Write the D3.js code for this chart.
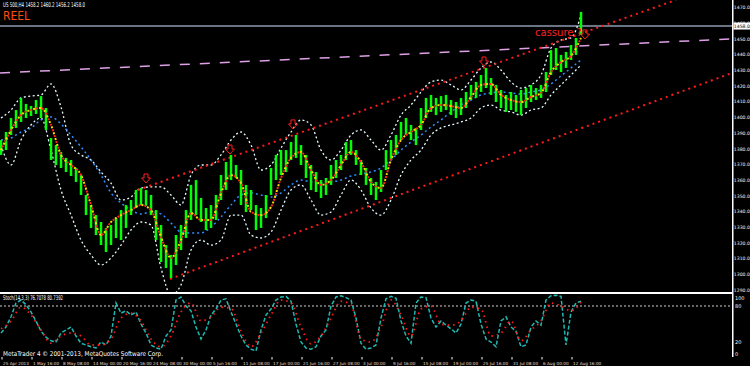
<!DOCTYPE html>
<html><head><meta charset="utf-8">
<script src="https://cdn.jsdelivr.net/npm/d3@7"></script>
<style>html,body{margin:0;padding:0;background:#000;overflow:hidden}svg{display:block}</style>
</head><body>
<script>
// ---- data (H4 bars, one entry every 5 px of the original) ----
const barLow = [1375.9,1379.0,1388.6,1393.1,1396.9,1399.4,1400.7,1402.0,1399.4,1391.8,
1372.7,1369.5,1367.6,1365.0,1362.5,1358.7,1350.4,1337.6,1329.4,1324.9,
1318.5,1314.1,1318.5,1323.0,1321.7,1329.4,1337.6,1342.1,1344.0,1343.4,
1337.6,1321.7,1307.7,1303.9,1297.5,1305.8,1315.3,1323.0,1334.5,1337.6,
1333.2,1328.1,1329.4,1334.5,1347.2,1353.6,1359.9,1361.2,1344.0,1339.6,
1340.8,1328.1,1329.4,1335.7,1350.4,1359.9,1363.1,1365.0,1372.7,1374.0,
1369.5,1361.2,1353.6,1352.3,1348.5,1350.4,1356.8,1361.2,1366.3,1372.7,
1375.9,1369.5,1363.1,1356.8,1350.4,1347.2,1352.3,1366.3,1372.7,1375.9,
1385.4,1388.6,1385.4,1382.2,1391.8,1399.4,1403.3,1401.3,1403.3,1404.5,
1401.3,1399.4,1401.3,1405.8,1410.9,1412.2,1416.0,1418.5,1414.1,1409.6,
1405.8,1403.3,1404.5,1403.3,1401.3,1405.8,1409.6,1410.9,1412.2,1416.0,
1426.8,1430.0,1428.7,1431.3,1436.4,1439.6,1452.3];
const barHigh = [1385.4,1390.5,1399.4,1404.5,1412.2,1408.4,1407.1,1410.9,1413.4,1405.8,
1386.7,1382.2,1377.8,1374.0,1372.7,1367.6,1363.1,1350.4,1344.0,1337.6,
1333.2,1329.4,1331.3,1335.7,1340.8,1344.0,1347.2,1353.6,1354.8,1353.6,
1350.4,1340.8,1331.3,1318.5,1312.2,1324.9,1331.3,1340.8,1356.8,1359.9,
1348.5,1342.1,1344.0,1350.4,1363.1,1371.4,1375.9,1369.5,1366.3,1356.8,
1353.6,1344.0,1342.1,1350.4,1367.6,1375.9,1379.0,1379.0,1384.1,1388.6,
1382.2,1375.9,1369.5,1365.0,1359.9,1361.2,1369.5,1372.7,1375.9,1384.1,
1385.4,1379.0,1372.7,1367.6,1361.2,1358.7,1366.3,1379.0,1385.4,1388.6,
1396.9,1399.4,1395.0,1393.1,1405.8,1412.2,1414.1,1412.2,1413.4,1414.1,
1410.9,1409.6,1412.2,1416.0,1420.5,1422.4,1426.8,1431.3,1424.9,1420.5,
1417.3,1414.1,1416.0,1414.1,1417.3,1418.5,1420.5,1418.5,1420.5,1428.7,
1442.7,1444.0,1439.6,1441.5,1445.9,1450.4,1467.0];
// indicators, one entry every 10 px (every 2 bars)
const fastMA = [1379.0,1391.8,1401.3,1404.5,1405.8,1395.0,1375.9,1369.5,1363.1,1344.0,
1324.9,1333.2,1337.6,1340.8,1344.0,1340.8,1323.6,1310.3,1321.7,1338.9,
1334.5,1334.5,1351.7,1363.1,1358.0,1339.6,1337.6,1342.7,1361.2,1374.0,
1377.8,1366.3,1356.8,1359.9,1369.5,1377.8,1371.4,1358.7,1354.8,1372.7,
1385.4,1390.5,1395.0,1405.8,1407.7,1407.1,1405.8,1412.8,1420.5,1421.1,
1414.1,1410.9,1409.6,1412.8,1415.4,1428.7,1435.1,1438.9,1450.4];
const slowMA = [1385.4,1386.7,1390.5,1393.1,1398.2,1400.1,1395.6,1388.6,1381.0,1372.7,
1363.1,1351.7,1345.3,1340.8,1338.3,1339.6,1338.3,1332.5,1326.8,1326.2,
1326.2,1330.0,1336.4,1344.0,1350.4,1351.7,1350.4,1349.1,1351.7,1356.8,
1359.9,1358.7,1358.0,1358.7,1359.9,1362.5,1363.8,1365.0,1367.6,1372.7,
1379.0,1384.1,1388.6,1393.7,1398.2,1403.3,1407.7,1410.9,1414.1,1415.4,
1416.0,1415.4,1414.7,1416.0,1417.3,1421.1,1426.2,1431.3,1436.4];
const bandUpper = [1399.4,1404.5,1412.2,1413.4,1414.1,1421.1,1406.4,1382.2,1375.9,1372.7,
1365.0,1358.0,1347.2,1349.1,1354.8,1355.5,1355.5,1350.4,1344.0,1363.1,
1369.5,1369.5,1375.9,1385.4,1390.5,1382.2,1366.3,1369.5,1380.3,1390.5,
1398.2,1395.0,1379.0,1372.7,1379.0,1388.6,1391.8,1385.4,1379.0,1388.6,
1401.3,1407.7,1416.0,1422.4,1423.6,1420.5,1417.3,1423.6,1431.3,1435.1,
1430.0,1422.4,1418.5,1420.5,1426.8,1444.0,1449.1,1450.4,1465.0];
const bandLower = [1382.2,1369.5,1385.4,1395.0,1399.4,1379.0,1353.6,1337.6,1321.7,1312.2,
1305.8,1310.3,1318.5,1328.1,1333.2,1331.3,1303.9,1286.7,1293.1,1315.4,
1321.7,1318.5,1321.7,1337.6,1337.6,1324.9,1323.0,1326.8,1340.8,1353.6,
1356.8,1347.2,1337.6,1339.6,1350.4,1359.9,1353.6,1342.1,1337.6,1347.2,
1363.1,1372.7,1379.0,1388.6,1393.1,1395.0,1396.9,1399.4,1405.8,1407.7,
1404.5,1403.3,1401.3,1404.5,1405.8,1414.1,1420.5,1426.8,1433.2];
// stochastic main (every 5 px) and signal (every 10 px)
const stochMain = [35,45,62,85,90,82,70,55,38,28,22,20,35,40,45,30,18,15,12,10,
20,15,30,85,68,72,65,70,50,35,15,10,8,30,40,90,95,80,72,45,
25,40,65,75,90,92,70,50,30,15,8,5,40,65,75,90,95,96,88,50,
20,10,8,12,30,40,80,95,97,94,90,60,18,8,10,15,60,92,96,93,
55,30,18,85,95,94,60,45,55,48,42,35,50,85,90,88,50,25,20,12,
55,62,45,38,12,15,45,55,48,90,97,98,96,15,70,85,88];
const stochSignal = [42,55,78,65,40,18,30,35,30,15,15,25,60,68,55,25,12,30,70,85,
55,62,78,76,38,12,35,65,90,85,45,17,30,60,88,82,25,20,45,90,
65,30,75,80,50,48,55,78,75,30,35,55,22,40,55,85,80,72,86];
// straight objects: [bar index, price]
const channelUpper = [[27.4,1353.6],[135,1474.6]];
const channelLower = [[33.8,1296.9],[146.2,1428.1]];
const resistance   = [[-0.2,1428.1],[146.2,1449.8]];
const fractals = [[29,1358.7],[45.8,1377.1],[58.4,1393.1],[96.6,1433.2],[116.8,1450.4]];
const priceTicks = [1470,1460,1450,1440,1430,1420,1410,1400,1390,1380,1370,1360,1350,1340,1330,1320,1310,1300,1290];
const stochTicks = [100,80,20,0];
const stochLevels = [80];
const timeLabels = ["25 Apr 2013","1 May 16:00","8 May 08:00","14 May 00:00","20 May 16:00","24 May 08:00",
"30 May 00:00","5 Jun 16:00","11 Jun 08:00","17 Jun 00:00","21 Jun 16:00","27 Jun 08:00","3 Jul 00:00",
"9 Jul 16:00","15 Jul 08:00","19 Jul 00:00","25 Jul 16:00","31 Jul 08:00","6 Aug 00:00","12 Aug 16:00"];
const lastPrice = 1458.0;
const headerText = "US 500,H4 1458.2 1460.2 1456.2 1458.0";
const stochText = "Stoch(14,3,3) 76.7078 80.7392";
const footerText = "MetaTrader 4 \u00a9 2001-2013, MetaQuotes Software Corp.";

// ---- drawing ----
const W = 750, H = 366, plotR = 732, mainB = 292, subT = 294, subB = 357;
const FONT = "DejaVu Sans, sans-serif";
const svg = d3.select("body").append("svg").attr("width", W).attr("height", H)
  .style("background", "#000");
const defs = svg.append("defs");
defs.append("clipPath").attr("id","cm").append("rect").attr("x",0).attr("y",0).attr("width",plotR).attr("height",mainB);
defs.append("clipPath").attr("id","cs").append("rect").attr("x",0).attr("y",subT).attr("width",plotR).attr("height",subB-subT);

const x = d3.scaleLinear().domain([0, 116]).range([1, 581]);
const y = d3.scaleLinear().domain([1290, 1470]).range([289.8, 7.2]);
const ys = d3.scaleLinear().domain([0, 100]).range([354, 294]);

const gm = svg.append("g").attr("clip-path", "url(#cm)");
const gs = svg.append("g").attr("clip-path", "url(#cs)");

// last price line
gm.append("line").attr("x1",0).attr("x2",plotR).attr("y1",y(lastPrice)).attr("y2",y(lastPrice))
  .attr("stroke","#8c9cb0").attr("stroke-width",1.5);

// resistance dashed line
const seg = d3.line().x(d => x(d[0])).y(d => y(d[1]));
gm.append("path").attr("d", seg(resistance)).attr("stroke","#e0a0e6").attr("stroke-width",1.5)
  .attr("stroke-dasharray","10,10").attr("fill","none");

// bands
const ln = (arr, step) => d3.line().curve(d3.curveMonotoneX).x((d,i) => x(i*step)).y(d => y(d))(arr);
[bandUpper, bandLower].forEach(b => {
  gm.append("path").attr("d", ln(b,2)).attr("stroke","#e6fbff").attr("stroke-width",1.3)
    .attr("stroke-dasharray","2,2.5").attr("fill","none");
});
// slow MA
gm.append("path").attr("d", ln(slowMA,2)).attr("stroke","#2f8fff").attr("stroke-width",1.5)
  .attr("stroke-dasharray","2,3").attr("fill","none");

// channel lines
[channelUpper, channelLower].forEach(c => {
  gm.append("path").attr("d", seg(c)).attr("stroke","#ff1a1a").attr("stroke-width",2)
    .attr("stroke-dasharray","2,4").attr("fill","none");
});

// bars
gm.selectAll("rect.bar").data(barLow).join("rect").attr("class","bar")
  .attr("x", (d,i) => x(i) - 1.25).attr("width", 2.5)
  .attr("y", (d,i) => y(barHigh[i])).attr("height", (d,i) => y(d) - y(barHigh[i]))
  .attr("fill", "#00ff00");

// fast MA (alternating red / yellow dots)
gm.append("path").attr("d", ln(fastMA,2)).attr("stroke","#ffd700").attr("stroke-width",2)
  .attr("stroke-dasharray","2,4").attr("fill","none");
gm.append("path").attr("d", ln(fastMA,2)).attr("stroke","#ff2020").attr("stroke-width",2)
  .attr("stroke-dasharray","2,4").attr("stroke-dashoffset",3).attr("fill","none");

// fractal arrows
gm.selectAll("path.fr").data(fractals).join("path").attr("class","fr")
  .attr("transform", d => `translate(${x(d[0])},${y(d[1])})`)
  .attr("d","M-2,-8 h4 v4 h2.5 l-4.5,5 l-4.5,-5 h2.5 z")
  .attr("fill","none").attr("stroke","#ff2020").attr("stroke-width",1);

// label cassure
svg.append("text").attr("x", 535).attr("y", 36).text("cassure ?")
  .attr("fill","#ff2020").attr("font-family",FONT).attr("font-size",10);

// header texts
svg.append("text").attr("x",3).attr("y",7).text(headerText).attr("fill","#fff")
  .attr("font-family",FONT).attr("font-size",6.5).attr("textLength",82).attr("lengthAdjust","spacingAndGlyphs");
svg.append("text").attr("x",3).attr("y",20).text("REEL").attr("fill","#ff4a10")
  .attr("font-family",FONT).attr("font-size",13).attr("textLength",27).attr("lengthAdjust","spacingAndGlyphs");

// panel separators and axis
svg.append("rect").attr("x",0).attr("y",mainB).attr("width",plotR+1).attr("height",2).attr("fill","#fff");
svg.append("rect").attr("x",plotR).attr("y",0).attr("width",1.5).attr("height",subB).attr("fill","#fff");

// price axis labels (the one under the current-price box is hidden by it, as in the original)
const ga = svg.append("g");
ga.selectAll("text.pt").data(priceTicks).join("text").attr("class","pt")
  .attr("x", 733.8).attr("y", d => y(d) + 2).text(d => d.toFixed(1))
  .attr("fill","#f4f4f4").attr("font-family",FONT).attr("font-size",4.6);
ga.append("rect").attr("x",733.5).attr("y",y(lastPrice)-3.5).attr("width",16.5).attr("height",7).attr("fill","#fff");
ga.append("text").attr("x",733.8).attr("y",y(lastPrice)+2).text(lastPrice.toFixed(1))
  .attr("fill","#000").attr("font-family",FONT).attr("font-size",4.6);

// stochastic subwindow
gs.selectAll("line.lv").data(stochLevels).join("line").attr("class","lv")
  .attr("x1",0).attr("x2",plotR).attr("y1",d=>ys(d)).attr("y2",d=>ys(d))
  .attr("stroke","#d0d0d0").attr("stroke-width",1).attr("stroke-dasharray","2,2");
gs.append("path").attr("d", d3.line().x((d,i)=>x(i)).y(d=>ys(d))(stochMain))
  .attr("stroke","#20b8b0").attr("stroke-width",1.5).attr("stroke-dasharray","4,2").attr("fill","none");
gs.append("path").attr("d", d3.line().curve(d3.curveMonotoneX).x((d,i)=>x(i*2)).y(d=>ys(d))(stochSignal))
  .attr("stroke","#ff1a1a").attr("stroke-width",1.8).attr("stroke-dasharray","1.5,4").attr("fill","none");
svg.append("text").attr("x",3).attr("y",300).text(stochText).attr("fill","#fff")
  .attr("font-family",FONT).attr("font-size",6.5).attr("textLength",60).attr("lengthAdjust","spacingAndGlyphs");
ga.selectAll("text.st").data(stochTicks).join("text").attr("class","st")
  .attr("x",735).attr("y",d=> d===100 ? 299.5 : ys(d)+2).text(d=>d)
  .attr("fill","#f4f4f4").attr("font-family",FONT).attr("font-size",5);

// footer
svg.append("text").attr("x",3).attr("y",356).text(footerText).attr("fill","#fff")
  .attr("font-family",FONT).attr("font-size",6.5).attr("textLength",160).attr("lengthAdjust","spacingAndGlyphs");
const gt = svg.append("g");
timeLabels.forEach((t,k) => {
  const px = x(0.2 + 6*k);
  gt.append("line").attr("x1",px).attr("x2",px).attr("y1",357).attr("y2",359.5).attr("stroke","#fff");
  gt.append("text").attr("x",px+1).attr("y",365).text(t).attr("fill","#eadcc8")
    .attr("font-family",FONT).attr("font-size",4.2);
});
</script>
</body></html>
